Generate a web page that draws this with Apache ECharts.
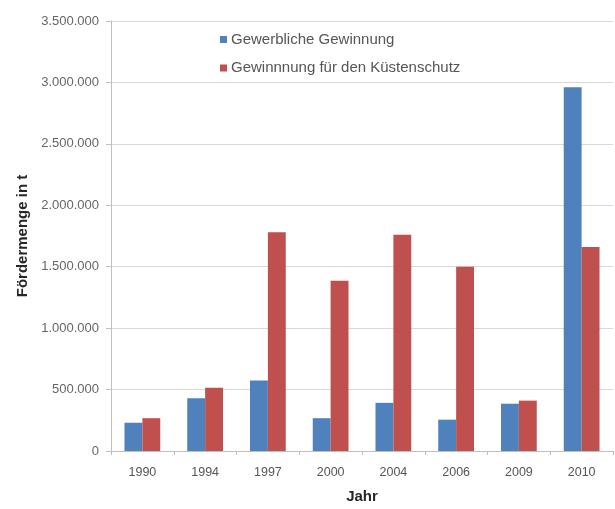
<!DOCTYPE html>
<html>
<head>
<meta charset="utf-8">
<script src="https://cdn.jsdelivr.net/npm/echarts@6/dist/echarts.min.js"></script>
<style>html,body{margin:0;padding:0;background:#fff}#c{width:615px;height:509px}</style>
</head>
<body>
<div id="c"></div>
<script>
const years = ['1990','1994','1997','2000','2004','2006','2009','2010'];
const gewerblich = [230000, 430000, 573000, 267000, 392000, 255000, 385000, 2960000];
const kuestenschutz = [267000, 514000, 1780000, 1385000, 1760000, 1500000, 410000, 1660000];
const seriesNames = ['Gewerbliche Gewinnung', 'Gewinnnung für den Küstenschutz'];
const yTitle = 'Fördermenge in t';
const xTitle = 'Jahr';

function fmt(v){ return String(v).replace(/\B(?=(\d{3})+(?!\d))/g, '.'); }

const chart = echarts.init(document.getElementById('c'), null, {renderer:'canvas'});
chart.setOption({
  animation: false,
  backgroundColor: '#fff',
  textStyle: {fontFamily: 'Liberation Sans'},
  grid: {left: 111, right: 2, top: 21, bottom: 57.5, containLabel: false},
  legend: {
    orient: 'vertical', left: 220, top: 32, itemGap: 13.5, padding: 0,
    itemWidth: 7, itemHeight: 7, icon: 'rect',
    textStyle: {fontSize: 15, lineHeight: 15, color: '#555', fontFamily: 'Liberation Sans', padding: [0,0,0,-1]},
    data: seriesNames
  },
  xAxis: {
    type: 'category', data: years,
    name: xTitle, nameLocation: 'middle', nameGap: 38,
    nameTextStyle: {fontSize: 15, fontWeight: 'bold', color: '#262626'},
    axisLine: {lineStyle: {color: '#bfbfbf'}},
    axisTick: {show: true, length: 4, lineStyle: {color: '#bfbfbf'}},
    axisLabel: {fontSize: 12.5, color: '#555', margin: 15}
  },
  yAxis: {
    type: 'value', min: 0, max: 3500000, interval: 500000,
    name: yTitle, nameLocation: 'middle', nameGap: 78, nameRotate: 90,
    nameTextStyle: {fontSize: 15, fontWeight: 'bold', color: '#262626'},
    axisLine: {show: true, lineStyle: {color: '#bfbfbf'}},
    axisTick: {show: true, length: 5, lineStyle: {color: '#bfbfbf'}},
    axisLabel: {fontSize: 13, color: '#666', margin: 12, formatter: fmt},
    splitLine: {lineStyle: {color: '#d9d9d9', width: 1}}
  },
  series: [
    {name: seriesNames[0], type: 'bar', data: gewerblich, barGap: '0%', barCategoryGap: '43%',
     itemStyle: {color: '#4f81bd'}},
    {name: seriesNames[1], type: 'bar', data: kuestenschutz, barGap: '0%', barCategoryGap: '43%',
     itemStyle: {color: '#c0504d'}}
  ]
});
</script>
</body>
</html>
